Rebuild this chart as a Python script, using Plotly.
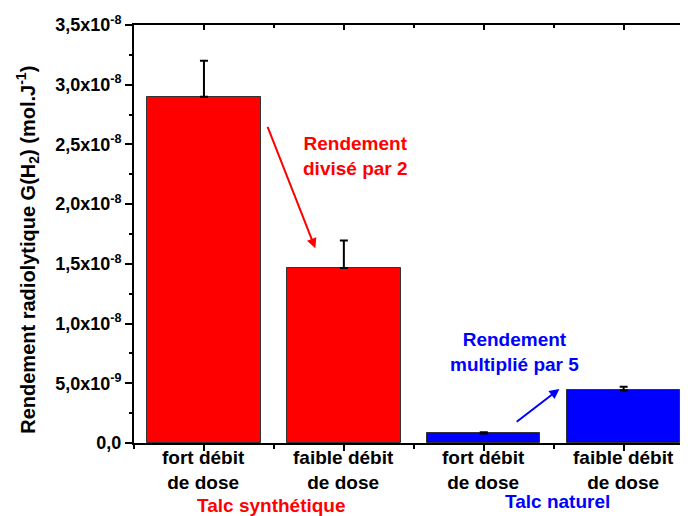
import plotly.graph_objects as go

# ---- data ----
categories = ["fort débit<br>de dose", "faible débit<br>de dose", "fort débit<br>de dose", "faible débit<br>de dose"]
positions = [1, 2, 3, 4]
values = [2.90e-8, 1.465e-8, 0.08e-8, 0.44e-8]
errors = [0.30e-8, 0.23e-8, 0.01e-8, 0.03e-8]
groups = ["Talc synthétique", "Talc naturel"]
group_centers = [1.48, 3.53]
ytick_vals = [0, 0.5e-8, 1.0e-8, 1.5e-8, 2.0e-8, 2.5e-8, 3.0e-8, 3.5e-8]
ytick_text = ["0,0", "5,0x10<sup>-9</sup>", "1,0x10<sup>-8</sup>", "1,5x10<sup>-8</sup>",
              "2,0x10<sup>-8</sup>", "2,5x10<sup>-8</sup>", "3,0x10<sup>-8</sup>", "3,5x10<sup>-8</sup>"]

RED = "#FF0000"
BLUE = "#0000FF"
bar_colors = [RED, RED, BLUE, BLUE]
FONT = "Arial, Liberation Sans, sans-serif"

# page body has an 8px default margin -> compensate
OFF = 8
L, T = 133.5 - OFF, 25 - OFF
W, H = 688, 516
PLOT_W = 688 - 133.5
PLOT_H = 442.7 - 25

fig = go.Figure()
fig.add_trace(go.Bar(
    x=positions, y=values, width=0.81,
    marker=dict(color=bar_colors, line=dict(color="#333333", width=1)),
    error_y=dict(type="data", array=errors, arrayminus=[0]*4, symmetric=False,
                 color="black", thickness=2, width=4),
    showlegend=False, hoverinfo="skip",
))
# invisible trace for top/right tick axes
fig.add_trace(go.Scatter(x=[1], y=[0], xaxis="x2", yaxis="y2", mode="markers",
                         marker=dict(opacity=0), showlegend=False, hoverinfo="skip"))

xr = [0.5, 4.46]
yr = [0, 3.5e-8]

fig.update_layout(
    template="none",
    width=W, height=H,
    margin=dict(l=L, r=W - L - PLOT_W, t=T, b=H - T - PLOT_H, autoexpand=False),
    paper_bgcolor="white", plot_bgcolor="white",
    font=dict(family=FONT, color="black"),
    bargap=0,
    xaxis=dict(range=xr, tickmode="array", tickvals=positions, showticklabels=False,
               showline=True, linecolor="black", linewidth=2, automargin=False,
               ticks="outside", ticklen=6, tickwidth=2, tickcolor="black",
               minor=dict(tickmode="array", tickvals=[0.5, 1.5, 2.5, 3.5, 4.5],
                          ticks="outside", ticklen=4, tickwidth=2, tickcolor="black"),
               showgrid=False, zeroline=False, fixedrange=True),
    yaxis=dict(range=yr, tickmode="array", tickvals=ytick_vals, ticktext=ytick_text,
               showline=True, linecolor="black", linewidth=2, automargin=False,
               ticks="outside", ticklen=7, tickwidth=2, tickcolor="black",
               minor=dict(tickmode="array", tickvals=[0.25e-8 + 0.5e-8*i for i in range(7)],
                          ticks="outside", ticklen=3, tickwidth=2, tickcolor="black"),
               tickfont=dict(size=18, family=FONT, weight="bold", color="black"),
               showgrid=False, zeroline=False, fixedrange=True),
    xaxis2=dict(range=xr, overlaying="x", side="top", anchor="y2", automargin=False,
                showline=True, linecolor="black", linewidth=2,
                tickmode="array", tickvals=positions, ticks="inside", ticklen=5, tickwidth=2,
                tickcolor="black", showticklabels=False,
                minor=dict(tickmode="array", tickvals=[1.5, 2.5, 3.5],
                           ticks="inside", ticklen=3, tickwidth=2, tickcolor="black"),
                showgrid=False, zeroline=False, fixedrange=True),
    yaxis2=dict(range=yr, overlaying="y", side="right", anchor="x2", automargin=False,
                showline=False, tickmode="array", tickvals=ytick_vals,
                ticks="inside", ticklen=5, tickwidth=2, tickcolor="black",
                showticklabels=False, showgrid=False, zeroline=False, fixedrange=True),
)


def py(vy):
    """viewport pixel y -> paper y"""
    return (442.7 - vy) / PLOT_H


annots = [
    # y-axis title
    dict(text="<b>Rendement radiolytique G(H<sub>2</sub>) (mol.J<sup>-1</sup>)</b>",
         textangle=-90, xref="paper", yref="paper", x=(27 - 133.5) / PLOT_W, y=py(250),
         xanchor="center", yanchor="middle", showarrow=False,
         font=dict(size=20, family=FONT, color="black")),
    # group labels
    dict(text="<b>" + groups[0] + "</b>", xref="x", yref="paper", x=group_centers[0], y=py(505.5),
         xanchor="center", yanchor="middle", showarrow=False,
         font=dict(size=19, family=FONT, color=RED)),
    dict(text="<b>" + groups[1] + "</b>", xref="x", yref="paper", x=group_centers[1], y=py(501.5),
         xanchor="center", yanchor="middle", showarrow=False,
         font=dict(size=19, family=FONT, color=BLUE)),
    # red note
    dict(text="<b>Rendement<br>divisé par 2</b>", xref="x", yref="y", x=2.08, y=2.40e-8,
         xanchor="center", yanchor="middle", showarrow=False, align="center",
         font=dict(size=19, family=FONT, color=RED)),
    dict(text="", xref="x", yref="y", axref="x", ayref="y",
         x=1.796, y=1.63e-8, ax=1.451, ay=2.66e-8, showarrow=True,
         arrowhead=2, arrowsize=1, arrowwidth=2, arrowcolor=RED),
    # blue note
    dict(text="<b>Rendement<br>multiplié par 5</b>", xref="x", yref="y", x=3.22, y=0.76e-8,
         xanchor="center", yanchor="middle", showarrow=False, align="center",
         font=dict(size=19, family=FONT, color=BLUE)),
    dict(text="", xref="x", yref="y", axref="x", ayref="y",
         x=3.541, y=0.4525e-8, ax=3.225, ay=0.168e-8, showarrow=True,
         arrowhead=2, arrowsize=1, arrowwidth=2, arrowcolor=BLUE),
]
# category labels under the x axis
for pos, cat in zip(positions, categories):
    annots.append(dict(text="<b>" + cat + "</b>", xref="x", yref="paper", x=pos, y=py(469.5),
                       xanchor="center", yanchor="middle", showarrow=False, align="center",
                       font=dict(size=19, family=FONT, color="black")))
fig.update_layout(annotations=annots)

fig.write_html("out.html")
